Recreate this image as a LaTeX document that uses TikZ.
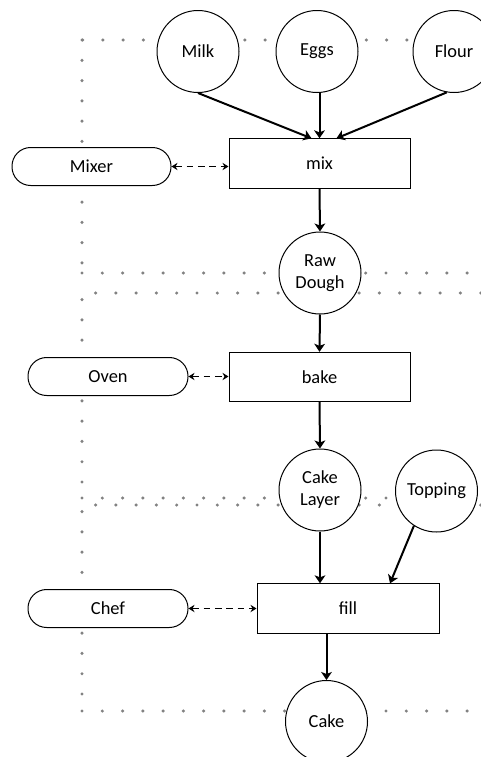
\documentclass[tikz,border=0pt]{standalone}
\usepackage{fontspec}
\setmainfont{Carlito}
\usetikzlibrary{arrows.meta,calc}
\definecolor{dotgray}{RGB}{130,130,130}
\begin{document}
\begin{tikzpicture}[x=0.75pt,y=-0.75pt,
  every node/.style={font=\fontsize{13.8}{16.5}\selectfont},
  item/.style={circle,draw,fill=white,minimum size=61.5pt,inner sep=0pt,line width=0.75pt,align=center},
  proc/.style={rectangle,draw,fill=white,minimum width=135.75pt,minimum height=37pt,line width=0.75pt},
  agent/.style={rectangle,rounded corners=14pt,draw,fill=white,minimum width=120pt,minimum height=28.5pt,line width=0.75pt},
  flow/.style={line width=1.5pt,-{Stealth[length=6pt,width=8pt,inset=1.5pt]}},
  link/.style={line width=0.8pt,dash pattern=on 5pt off 3.5pt,{Stealth[length=4.5pt,width=5.5pt]}-{Stealth[length=4.5pt,width=5.5pt]}},
  region/.style={dotgray,line width=2.6pt,line cap=round,dash pattern=on 0pt off 15.2pt}]
\useasboundingbox (0,0) rectangle (481,757);
\clip (0,0) rectangle (481,757);
% dotted regions
\draw[region] (488,40) -- (82,40);
\draw[region] (82,40) -- (82,273);
\draw[region] (82,273) -- (500,273);
\draw[region] (501,293) -- (82,293) -- (82,498);
\draw[region] (82,498) -- (500,498);
\draw[region] (501,505) -- (82,505) -- (82,711);
\draw[region] (82,711) -- (500,711);
% nodes
\node[item] (Milk) at (198,51.5) {Milk};
\node[item] (Eggs) at (317,51.5) {Eggs};
\node[item] (Flour) at (454,51.5) {Flour};
\node[proc] (mix) at (319.5,163.5) {mix};
\node[agent,minimum width=119.25pt] (Mixer) at (91.5,166.5) {Mixer};
\node[item] (RawDough) at (320,273) {Raw\\Dough};
\node[proc] (bake) at (319.5,377) {bake};
\node[agent] (Oven) at (108,376.5) {Oven};
\node[item] (CakeLayer) at (320,490) {Cake\\Layer};
\node[item] (Topping) at (436.5,491) {Topping};
\node[proc,minimum width=136.5pt] (fill) at (348,608.5) {fill};
\node[agent] (Chef) at (108,608.5) {Chef};
\node[item] (Cake) at (326.5,721.5) {Cake};
% flows
\draw[flow] (Milk.south) -- ($(mix.north)+(-8,0)$);
\draw[flow] (Eggs.south -| mix.north) -- (mix.north);
\draw[flow] (Flour.-100) -- ($(mix.north)+(17,0)$);
\draw[flow] (mix.south) -- (RawDough.north);
\draw[flow] (RawDough.south) -- (bake.north);
\draw[flow] (bake.south) -- (CakeLayer.north);
\draw[flow] (CakeLayer.south) -- (CakeLayer.south |- fill.north);
\draw[flow] (Topping.-123) -- ($(fill.north)+(42,0)$);
\draw[flow] (Cake.north |- fill.south) -- (Cake.north);
% links
\draw[link] (Mixer.east) -- (Mixer.east -| mix.west);
\draw[link] (Oven.east) -- (Oven.east -| bake.west);
\draw[link] (Chef.east) -- (Chef.east -| fill.west);
\end{tikzpicture}
\end{document}
